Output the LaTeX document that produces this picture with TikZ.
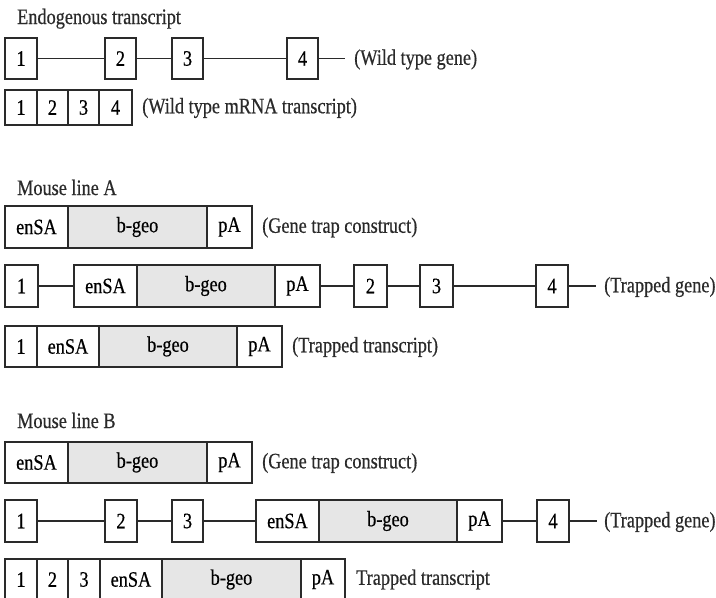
\documentclass[tikz,border=0pt]{standalone}
\usepackage{fontspec}
\setmainfont{Liberation Serif}[FakeStretch=0.83,FakeBold=0.5]
\definecolor{inkline}{HTML}{2A2A2A}
\definecolor{geofill}{HTML}{E6E6E6}
% box with corners (x1,y1)-(x2,y2): name, x1, y1, x2, y2, text, extra style
\newcommand\seg[7]{%
  \node[segbox,#7,minimum width={(#4-#2)*1pt},minimum height={(#5-#3)*1pt},
        anchor=north west] (#1) at (#2,#3) {#6};}
\begin{document}
\begin{tikzpicture}[x=1pt,y=-1pt,
  font=\fontsize{22}{24}\selectfont,
  segbox/.style={draw=inkline,line width=1.5pt,fill=white,inner sep=0pt,outer sep=0pt},
  geo/.style={fill=geofill},
  wire/.style={draw=inkline,line width=1.5pt},
  caption/.style={anchor=west,inner sep=0pt,text=inkline},
  heading/.style={anchor=base west,inner sep=0pt,text=inkline}]
\useasboundingbox (0,0) rectangle (716,598);

% ---------- Endogenous transcript ----------
\node[heading] (hE) at (17,24) {Endogenous transcript};
\seg{w1}{5}{38}{37}{79}{1}{}
\seg{w2}{105}{38}{136}{79}{2}{}
\seg{w3}{172}{38}{203}{79}{3}{}
\seg{w4}{287}{38}{318}{79}{4}{}
\coordinate (wt) at (345,58.5);
\draw[wire] (w1.east) -- (w2.west) (w2.east) -- (w3.west) (w3.east) -- (w4.west) (w4.east) -- (wt);
\node[caption] (lw) at (354,59.5) {(Wild type gene)};

\seg{m1}{5}{90}{37}{125}{1}{}
\seg{m2}{37}{90}{68}{125}{2}{}
\seg{m3}{68}{90}{99}{125}{3}{}
\seg{m4}{99}{90}{132}{125}{4}{}
\node[caption] (lm) at (142,108) {(Wild type mRNA transcript)};

% ---------- Mouse line A ----------
\node[heading] (hA) at (17,195) {Mouse line A};
\seg{ca1}{5}{206}{68}{248}{enSA}{}
\seg{ca2}{68}{206}{207}{248}{b-geo}{geo}
\seg{ca3}{207}{206}{252}{248}{pA}{}
\node[caption] (lca) at (262,227.5) {(Gene trap construct)};

\seg{ga1}{5}{265}{38}{307}{1}{}
\seg{gaS}{74}{265}{137}{307}{enSA}{}
\seg{gaG}{137}{265}{275}{307}{b-geo}{geo}
\seg{gaP}{275}{265}{320}{307}{pA}{}
\seg{ga2}{354}{265}{387}{307}{2}{}
\seg{ga3}{420}{265}{453}{307}{3}{}
\seg{ga4}{536}{265}{568}{307}{4}{}
\coordinate (gat) at (596,286);
\draw[wire] (ga1.east) -- (gaS.west) (gaP.east) -- (ga2.west) (ga2.east) -- (ga3.west)
  (ga3.east) -- (ga4.west) (ga4.east) -- (gat);
\node[caption] (lga) at (604,287) {(Trapped gene)};

\seg{ta1}{5}{326}{37}{367}{1}{}
\seg{taS}{37}{326}{99}{367}{enSA}{}
\seg{taG}{99}{326}{237}{367}{b-geo}{geo}
\seg{taP}{237}{326}{282}{367}{pA}{}
\node[caption] (lta) at (292,347) {(Trapped transcript)};

% ---------- Mouse line B ----------
\node[heading] (hB) at (17,428) {Mouse line B};
\seg{cb1}{5}{442}{68}{483}{enSA}{}
\seg{cb2}{68}{442}{207}{483}{b-geo}{geo}
\seg{cb3}{207}{442}{252}{483}{pA}{}
\node[caption] (lcb) at (262,463) {(Gene trap construct)};

\seg{gb1}{5}{500}{37}{542}{1}{}
\seg{gb2}{105}{500}{137}{542}{2}{}
\seg{gb3}{172}{500}{203}{542}{3}{}
\seg{gbS}{256}{500}{319}{542}{enSA}{}
\seg{gbG}{319}{500}{457}{542}{b-geo}{geo}
\seg{gbP}{457}{500}{502}{542}{pA}{}
\seg{gb4}{537}{500}{569}{542}{4}{}
\coordinate (gbt) at (597,521);
\draw[wire] (gb1.east) -- (gb2.west) (gb2.east) -- (gb3.west) (gb3.east) -- (gbS.west)
  (gbP.east) -- (gb4.west) (gb4.east) -- (gbt);
\node[caption] (lgb) at (604,522) {(Trapped gene)};

\seg{tb1}{5}{559}{37}{600}{1}{}
\seg{tb2}{37}{559}{68}{600}{2}{}
\seg{tb3}{68}{559}{100}{600}{3}{}
\seg{tbS}{100}{559}{162}{600}{enSA}{}
\seg{tbG}{162}{559}{301}{600}{b-geo}{geo}
\seg{tbP}{301}{559}{345}{600}{pA}{}
\node[caption] (ltb) at (356,579.5) {Trapped transcript};
\end{tikzpicture}
\end{document}
